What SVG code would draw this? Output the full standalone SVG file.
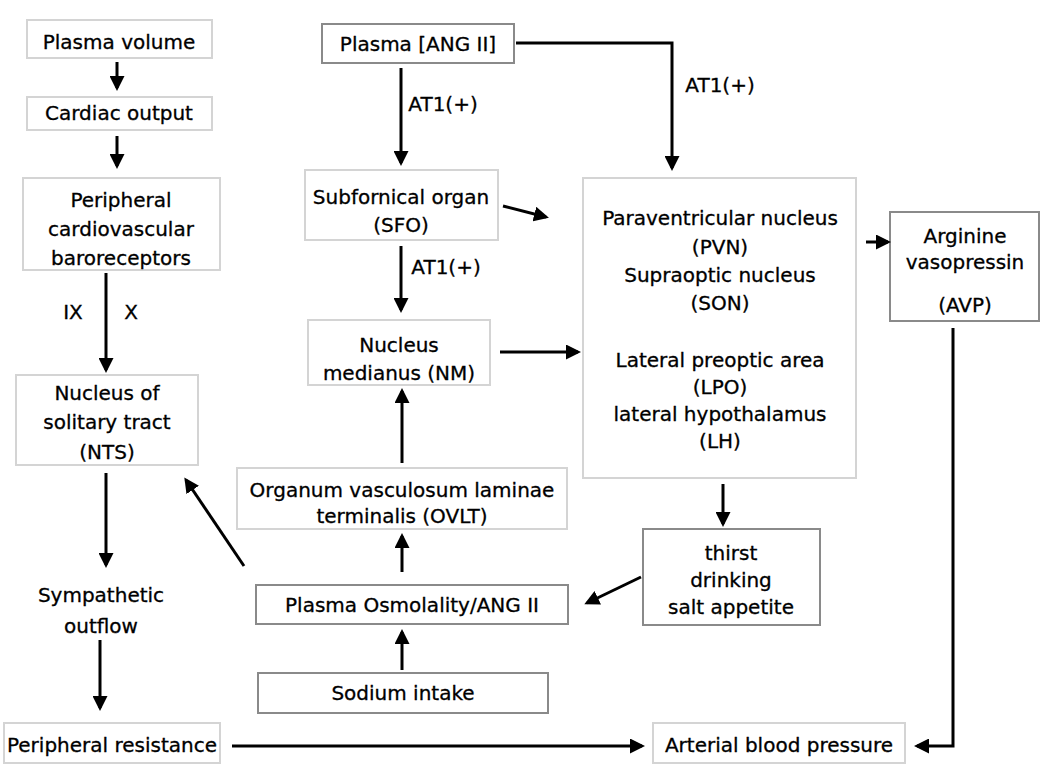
<svg xmlns="http://www.w3.org/2000/svg" width="1050" height="778" viewBox="0 0 1050 778">
<defs>
<marker id="ah" markerWidth="5" markerHeight="5" refX="4" refY="2.5" orient="auto" markerUnits="strokeWidth"><path d="M0,0 L5,2.5 L0,5 z" fill="#000"/></marker>
<style>
.bx{fill:#fff;stroke:#d4d4d4;stroke-width:2}
.bd{fill:#fff;stroke:#8a8a8a;stroke-width:2}
text{font-family:"DejaVu Sans","Verdana",sans-serif;font-size:20px;fill:#000;stroke:#000;stroke-width:0.3;text-anchor:middle}
.ln{stroke:#000;stroke-width:3;fill:none}
.ar{stroke:#000;stroke-width:3;fill:none;marker-end:url(#ah)}
</style>
</defs>
<rect width="1050" height="778" fill="#fff"/>
<g id="n-plasma-volume"><rect class="bx" x="27" y="20" width="185" height="38"/><text x="119" y="49">Plasma volume</text></g>
<g id="n-cardiac-output"><rect class="bx" x="27" y="97" width="185" height="33"/><text x="119" y="120">Cardiac output</text></g>
<g id="n-baroreceptors"><rect class="bx" x="23" y="178" width="197" height="92"/><text x="121" y="207">Peripheral</text><text x="121" y="236">cardiovascular</text><text x="121" y="265">baroreceptors</text></g>
<g id="n-nts"><rect class="bx" x="16" y="375" width="182" height="90"/><text x="107" y="400">Nucleus of</text><text x="107" y="429">solitary tract</text><text x="107" y="459">(NTS)</text></g>
<g id="n-sympathetic"><text x="101" y="602">Sympathetic</text><text x="101" y="633">outflow</text></g>
<g id="n-peripheral-resistance"><rect class="bx" x="4" y="723" width="216" height="40"/><text x="112" y="752">Peripheral resistance</text></g>
<g id="n-arterial-bp"><rect class="bx" x="653" y="723" width="252" height="40"/><text x="779" y="752">Arterial blood pressure</text></g>
<g id="n-plasma-ang"><rect class="bd" x="322" y="24" width="192" height="39"/><text x="418" y="51">Plasma [ANG II]</text></g>
<g id="n-sfo"><rect class="bx" x="305" y="170" width="193" height="70"/><text x="401" y="204">Subfornical organ</text><text x="401" y="232">(SFO)</text></g>
<g id="n-nm"><rect class="bx" x="308" y="320" width="182" height="65"/><text x="399" y="352">Nucleus</text><text x="399" y="380">medianus (NM)</text></g>
<g id="n-hypothalamus"><rect class="bx" x="583" y="178" width="273" height="300"/>
<text x="720" y="225">Paraventricular nucleus</text><text x="720" y="254">(PVN)</text><text x="720" y="282">Supraoptic nucleus</text><text x="720" y="310">(SON)</text>
<text x="720" y="367">Lateral preoptic area</text><text x="720" y="394">(LPO)</text><text x="720" y="421">lateral hypothalamus</text><text x="720" y="448">(LH)</text></g>
<g id="n-avp"><rect class="bd" x="890" y="212" width="149" height="109"/><text x="965" y="243">Arginine</text><text x="965" y="269">vasopressin</text><text x="965" y="312">(AVP)</text></g>
<g id="n-thirst"><rect class="bd" x="643" y="529" width="177" height="96"/><text x="731" y="560">thirst</text><text x="731" y="587">drinking</text><text x="731" y="614">salt appetite</text></g>
<g id="n-ovlt"><rect class="bx" x="237" y="468" width="330" height="61"/><text x="402" y="497">Organum vasculosum laminae</text><text x="402" y="523">terminalis (OVLT)</text></g>
<g id="n-plasma-osm"><rect class="bd" x="256" y="585" width="312" height="39"/><text x="412" y="612">Plasma Osmolality/ANG II</text></g>
<g id="n-sodium"><rect class="bd" x="258" y="673" width="290" height="40"/><text x="403" y="700">Sodium intake</text></g>
<g id="connectors">
<line class="ar" x1="117" y1="62" x2="117" y2="88"/>
<line class="ar" x1="117" y1="136" x2="117" y2="166"/>
<line class="ar" x1="106" y1="273" x2="106" y2="370"/>
<text x="73" y="319">IX</text><text x="131" y="319">X</text>
<line class="ar" x1="106" y1="473" x2="106" y2="565"/>
<line class="ar" x1="100" y1="640" x2="100" y2="708"/>
<line class="ar" x1="232" y1="746" x2="642" y2="746"/>
<polyline class="ar" points="953,328 953,746 917,746"/>
<line class="ar" x1="401" y1="68" x2="401" y2="163"/>
<text x="443" y="111">AT1(+)</text>
<polyline class="ar" points="516,43 672,43 672,168"/>
<text x="720" y="92">AT1(+)</text>
<line class="ar" x1="503" y1="206" x2="546" y2="217"/>
<line class="ar" x1="401" y1="246" x2="401" y2="310"/>
<text x="446" y="274">AT1(+)</text>
<line class="ar" x1="500" y1="352" x2="578" y2="352"/>
<line class="ar" x1="866" y1="242" x2="888" y2="242"/>
<line class="ar" x1="723" y1="484" x2="723" y2="524"/>
<line class="ar" x1="641" y1="577" x2="587" y2="603"/>
<line class="ar" x1="402" y1="463" x2="402" y2="391"/>
<line class="ar" x1="402" y1="572" x2="402" y2="536"/>
<line class="ar" x1="402" y1="670" x2="402" y2="632"/>
<line class="ar" x1="244" y1="566" x2="186" y2="480"/>
</g>
</svg>
